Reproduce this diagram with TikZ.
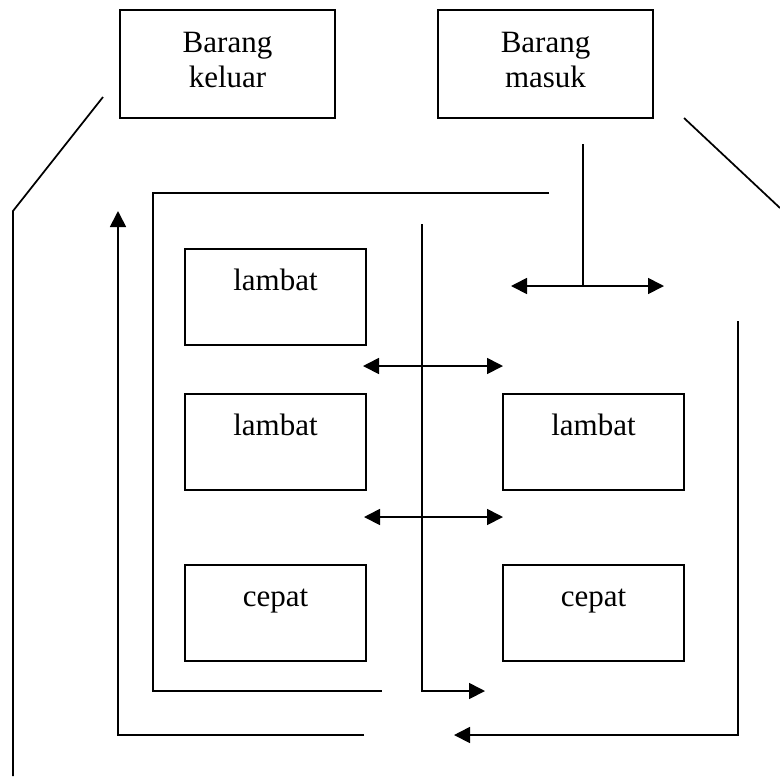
\documentclass[tikz,border=0pt]{standalone}
\usepackage{fontspec}
\setmainfont{Liberation Serif}
\usetikzlibrary{arrows.meta}
\usetikzlibrary{positioning}

\begin{document}
\begin{tikzpicture}[x=0.75pt,y=-0.75pt,line width=1.3pt,
    every node/.style={font=\fontsize{23.25}{26.25}\selectfont},
    rak/.style={draw,rectangle,inner sep=0pt,minimum width=135.75pt,text height=30.75pt,text depth=41.25pt},
    pintu/.style={draw,rectangle,inner sep=0pt,align=center,minimum width=161.25pt,text height=57.75pt,text depth=23.25pt},
    tip/.style={-{Triangle[length=12pt,width=12pt]}},
    tips/.style={{Triangle[length=12pt,width=12pt]}-{Triangle[length=12pt,width=12pt]}}]
\useasboundingbox (0,0) rectangle (780,776);
\node[pintu] (keluar) at (227.5,64) {Barang\\keluar};
\node[pintu] (masuk) at (545.5,64) {Barang\\masuk};
\node[rak] (lambat1) at (275.5,297) {lambat};
\node[rak] (lambat2) at (275.5,442) {lambat};
\node[rak] (lambat3) at (593.5,442) {lambat};
\node[rak] (cepat1) at (275.5,613) {cepat};
\node[rak] (cepat2) at (593.5,613) {cepat};
% jalur
\coordinate (kelA) at (103,97);
\coordinate (kelB) at (13,211);
\coordinate (kelC) at (13,776);
\coordinate (masA) at (684,118);
\coordinate (masB) at (780,208);
\coordinate (stemA) at (583,144);
\coordinate (stemB) at (583,286);
\coordinate (atasL) at (511,286);
\coordinate (atasR) at (664,286);
\coordinate (dalamA) at (549,193);
\coordinate (dalamB) at (153,193);
\coordinate (dalamC) at (153,691);
\coordinate (dalamD) at (382,691);
\coordinate (tengahA) at (422,224);
\coordinate (tengahB) at (422,691);
\coordinate (tengahC) at (485,691);
\coordinate (luarA) at (364,735);
\coordinate (luarB) at (118,735);
\coordinate (luarC) at (118,211);
\coordinate (kananA) at (738,321);
\coordinate (kananB) at (738,735);
\coordinate (kananC) at (454,735);
\coordinate (geserA1) at (363,366);
\coordinate (geserA2) at (503,366);
\coordinate (geserB1) at (364,517);
\coordinate (geserB2) at (503,517);
\draw (kelA) -- (kelB) -- (kelC);
\draw (masA) -- (masB);
\draw (stemA) -- (stemB);
\draw[tips] (atasL) -- (atasR);
\draw (dalamA) -- (dalamB) -- (dalamC) -- (dalamD);
\draw[tip] (tengahA) -- (tengahB) -- (tengahC);
\draw[tip] (luarA) -- (luarB) -- (luarC);
\draw[tip] (kananA) -- (kananB) -- (kananC);
\draw[tips] (geserA1) -- (geserA2);
\draw[tips] (geserB1) -- (geserB2);
\end{tikzpicture}
\end{document}
